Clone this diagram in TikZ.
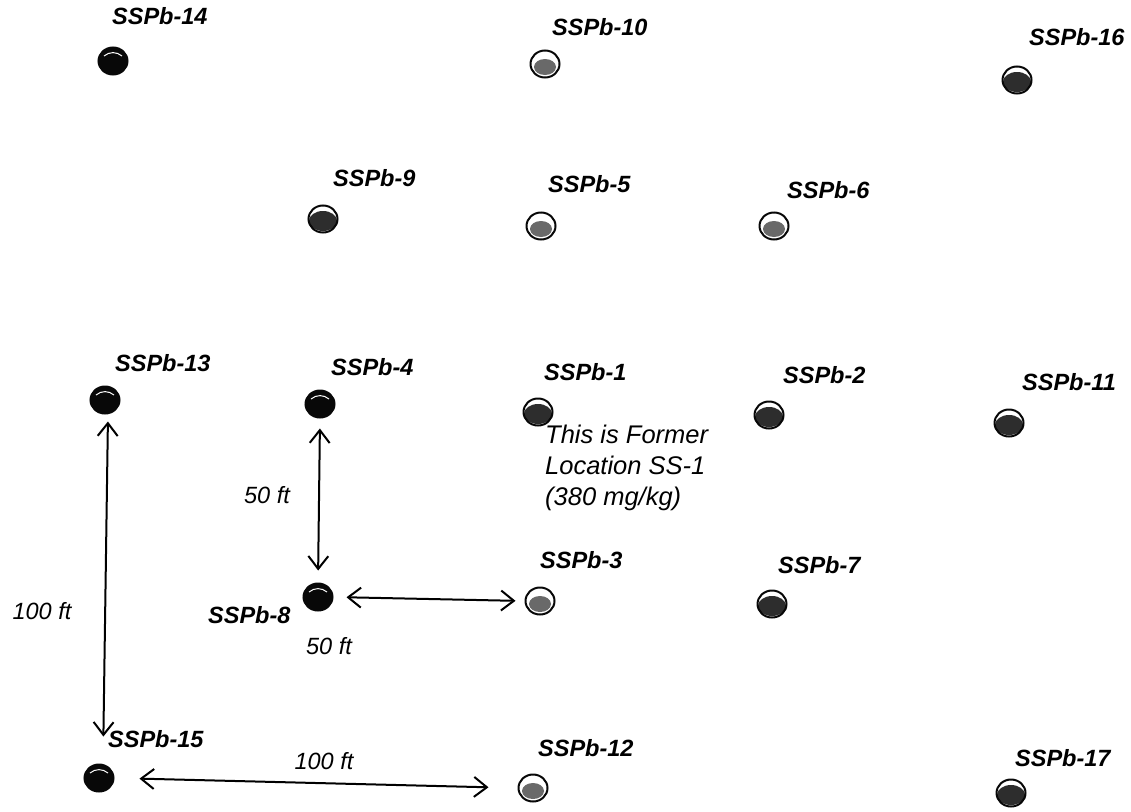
\documentclass[tikz,border=0pt]{standalone}
\usepackage{fontspec}
\setmainfont{Liberation Sans}
\usepackage{xcolor}
\usetikzlibrary{arrows.meta,positioning,calc,shapes.geometric}
\definecolor{wellink}{RGB}{8,8,8}
\definecolor{wellmid}{RGB}{45,45,45}
\definecolor{welllight}{RGB}{105,105,105}
\tikzset{
  wellbase/.style={ellipse,draw=wellink,line width=2pt,inner sep=0pt,minimum width=29pt,minimum height=27pt},
  welldark/.style={wellbase,fill=wellink,
    path picture={\draw[white,line width=1pt] ([xshift=-9pt,yshift=5pt]path picture bounding box.center) to[bend left=40] ([xshift=9pt,yshift=5pt]path picture bounding box.center);}},
  wellgrey/.style={wellbase,fill=white,
    path picture={\fill[wellmid] ([yshift=-2pt]path picture bounding box.center) ellipse (14pt and 10pt);}},
  wellpale/.style={wellbase,fill=white,
    path picture={\fill[welllight] ([yshift=-3pt]path picture bounding box.center) ellipse (11pt and 8pt);}},
  tag/.style={font=\bfseries\itshape\fontsize{23.5}{23.5}\selectfont,anchor=west,inner sep=0pt},
  note/.style={font=\itshape\fontsize{25.5}{31}\selectfont,anchor=north west,align=left,inner sep=0pt},
  gap/.style={font=\itshape\fontsize{23.5}{23.5}\selectfont,inner sep=0pt},
  span/.style={<->,>={Straight Barb[length=4.5mm,width=7mm]},line width=2pt}
}
\begin{document}
\begin{tikzpicture}[x=1pt,y=-1pt]
\useasboundingbox (0,0) rectangle (1131,811);
% sampling points
\node[welldark] (w14) at (113,61) {};
\node[wellpale] (w10) at (545,64) {};
\node[wellgrey] (w16) at (1017,80) {};
\node[wellgrey] (w9) at (323,219) {};
\node[wellpale] (w5) at (541,226) {};
\node[wellpale] (w6) at (774,226) {};
\node[welldark] (w13) at (105,400) {};
\node[welldark] (w4) at (320,404) {};
\node[wellgrey] (w1) at (538,412) {};
\node[wellgrey] (w2) at (769,415) {};
\node[wellgrey] (w11) at (1009,423) {};
\node[welldark] (w8) at (318,597) {};
\node[wellpale] (w3) at (540,601) {};
\node[wellgrey] (w7) at (772,604) {};
\node[welldark] (w15) at (99,778) {};
\node[wellpale] (w12) at (533,788) {};
\node[wellgrey] (w17) at (1011,793) {};
% names
\node[tag] (t14) at (112,16) {SSPb-14};
\node[tag] (t10) at (552,27) {SSPb-10};
\node[tag] (t16) at (1029,37) {SSPb-16};
\node[tag] (t9) at (333,178) {SSPb-9};
\node[tag] (t5) at (548,184) {SSPb-5};
\node[tag] (t6) at (787,190) {SSPb-6};
\node[tag] (t13) at (115,363) {SSPb-13};
\node[tag] (t4) at (331,367) {SSPb-4};
\node[tag] (t1) at (544,372) {SSPb-1};
\node[tag] (t2) at (783,375) {SSPb-2};
\node[tag] (t11) at (1022,382) {SSPb-11};
\node[tag] (t3) at (540,560) {SSPb-3};
\node[tag] (t7) at (778,565) {SSPb-7};
\node[tag] (t8) at (208,615) {SSPb-8};
\node[tag] (t15) at (108,739) {SSPb-15};
\node[tag] (t12) at (538,748) {SSPb-12};
\node[tag] (t17) at (1015,758) {SSPb-17};
\node[note] (former) at (545,425) {This is Former\\Location SS-1\\(380 mg/kg)};
% distances
\draw[span,shorten <=7pt,shorten >=27pt] ([xshift=3pt]w13.south) -- ([xshift=4pt]w15.north);
\draw[span,shorten <=10pt,shorten >=12pt] (w4.south) -- (w8.north);
\draw[span,shorten <=13pt,shorten >=9pt] (w8.east) -- (w3.west);
\draw[span,shorten <=25pt,shorten >=29pt] (w15.east) -- (w12.west);
\node[gap] (d1) at (42,611) {100 ft};
\node[gap] (d2) at (267,495) {50 ft};
\node[gap] (d3) at (329,646) {50 ft};
\node[gap] (d4) at (324,761) {100 ft};
\end{tikzpicture}
\end{document}
